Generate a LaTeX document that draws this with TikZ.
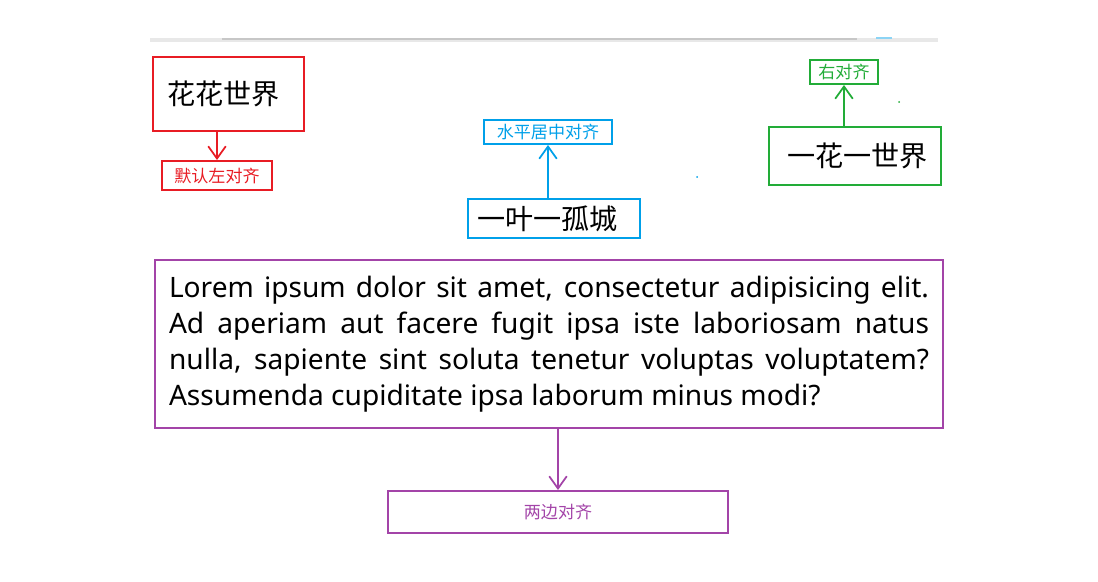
\documentclass[tikz,border=0pt]{standalone}
\usepackage{fontspec}
\setmainfont{Noto Sans}
\newfontfamily\cjk{Noto Sans CJK SC}
\usetikzlibrary{arrows.meta, positioning}

\definecolor{hongse}{RGB}{232,28,36}
\definecolor{lanse}{RGB}{0,160,233}
\definecolor{lvse}{RGB}{34,172,56}
\definecolor{zise}{RGB}{163,68,168}

\begin{document}
\begin{tikzpicture}[
    big/.style={draw, line width=1.1pt, rectangle, font=\cjk\fontsize{16}{19}\selectfont, text=black},
    tag/.style={draw, line width=1.1pt, rectangle, inner sep=0pt, font=\cjk\fontsize{9.7}{12}\selectfont},
    fleche/.style={-{Straight Barb[length=7pt,width=10pt]}, line width=1pt}
]
\useasboundingbox (0,0) rectangle (21.96,-11.64);

% Barre grise en haut
\fill[black!9] (3.0,-0.76) rectangle (18.76,-0.84);
\draw[black!22, line width=0.6pt] (4.44,-0.78) -- (17.14,-0.78);
\fill[lanse!45] (17.52,-0.74) rectangle (17.84,-0.79);

% Trois boîtes du haut
\node[big, hongse, minimum width=3.02cm, minimum height=1.48cm, inner xsep=0.28cm,
      text width=2.46cm, align=left] (hua) at (4.57,-1.88) {\textcolor{black}{花花世界}};
\node[big, lanse, minimum width=3.44cm, minimum height=0.78cm, inner xsep=0.18cm,
      text width=3.08cm, align=left] (ye) at (11.08,-4.37) {\textcolor{black}{一叶一孤城}};
\node[big, lvse, minimum width=3.44cm, minimum height=1.16cm, inner xsep=0.26cm,
      text width=2.92cm, align=right] (yihua) at (17.1,-3.12) {\textcolor{black}{一花一世界}};

% Étiquettes
\node[tag, hongse, minimum width=2.2cm, minimum height=0.58cm] (moren) at (4.34,-3.51) {默认左对齐};
\node[tag, lanse, minimum width=2.56cm, minimum height=0.48cm] (juzhong) at (10.96,-2.64) {水平居中对齐};
\node[tag, lvse, minimum width=1.36cm, minimum height=0.48cm] (youdui) at (16.88,-1.44) {右对齐};

\draw[fleche, hongse] (hua.south -| moren.north) -- (moren.north);
\draw[fleche, lanse] (ye.north -| juzhong.south) -- (juzhong.south);
\draw[fleche, lvse] (yihua.north -| youdui.south) -- (youdui.south);

% Paragraphe justifié
\node[draw=zise, line width=1.1pt, rectangle, minimum width=15.76cm, minimum height=3.36cm,
      inner xsep=0.28cm, text width=15.2cm, align=justify,
      font=\fontsize{16}{20.6}\selectfont] (lorem) at (10.98,-6.88)
  {Lorem ipsum dolor sit amet, consectetur adipisicing elit.\linebreak
   Ad aperiam aut facere fugit ipsa iste laboriosam natus\linebreak
   nulla, sapiente sint soluta tenetur voluptas voluptatem?\linebreak
   Assumenda cupiditate ipsa laborum minus modi?\par\vspace{0.62cm}};

\node[tag, zise, minimum width=6.8cm, minimum height=0.84cm] (liangbian) at (11.16,-10.24) {两边对齐};
\draw[fleche, zise] (lorem.south -| liangbian.north) -- (liangbian.north);

% Petits points
\fill[lanse] (13.94,-3.54) circle (0.02);
\fill[lvse] (17.98,-2.04) circle (0.02);

\end{tikzpicture}
\end{document}
